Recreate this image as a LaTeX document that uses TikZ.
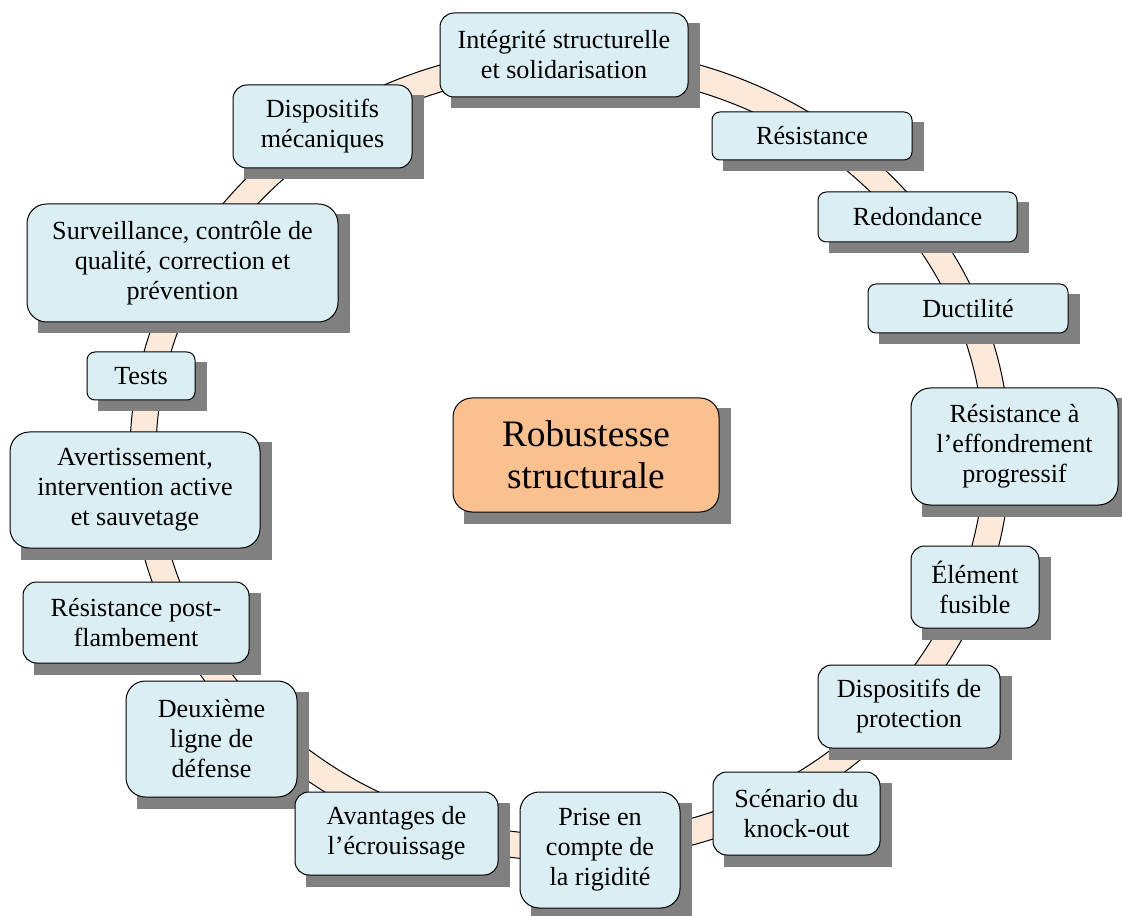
\documentclass[tikz,border=0pt]{standalone}
\usepackage{fontspec}
\setmainfont{Liberation Serif}
\usetikzlibrary{backgrounds}
\definecolor{boxblue}{HTML}{DAEEF3}
\definecolor{ringpeach}{HTML}{FDE9D9}
\definecolor{coreorange}{HTML}{FAC090}
\definecolor{shadegray}{HTML}{808080}
\tikzset{
  idea/.style={draw=black, line width=0.75pt, fill=boxblue, align=center, inner sep=0pt,
    font=\fontsize{19.6}{22.5}\selectfont},
  boxw/.style={minimum width=#1*0.75pt},
  boxh/.style={minimum height=#1*0.75pt, rounded corners=#1*0.125pt},
  shadowbox/.style={fill=shadegray}
}
\begin{document}
\begin{tikzpicture}[x=0.75pt,y=-0.75pt]
\useasboundingbox (0,0) rectangle (1122,916);
\node[idea, boxw=248, boxh=84] (integrite) at (564,55) {Intégrité structurelle\\et solidarisation};
\node[idea, boxw=179, boxh=83] (dispmeca) at (322.5,126.5) {Dispositifs\\mécaniques};
\node[idea, boxw=200, boxh=48] (resistance) at (812,136) {Résistance};
\node[idea, boxw=199, boxh=50] (redondance) at (917.5,217) {Redondance};
\node[idea, boxw=200, boxh=49] (ductilite) at (968,308.5) {Ductilité};
\node[idea, boxw=207, boxh=117] (effondrement) at (1014.5,446.5) {Résistance à\\l’effondrement\\progressif};
\node[idea, boxw=128, boxh=82] (fusible) at (975,587) {Élément\\fusible};
\node[idea, boxw=182, boxh=83] (protection) at (909,706.5) {Dispositifs de\\protection};
\node[idea, boxw=167, boxh=83] (knockout) at (796.5,813.5) {Scénario du\\knock-out};
\node[idea, boxw=160, boxh=116] (rigidite) at (600,850) {Prise en\\compte de\\la rigidité};
\node[idea, boxw=203, boxh=83] (ecrouissage) at (396.5,833.5) {Avantages de\\l’écrouissage};
\node[idea, boxw=171, boxh=116] (defense) at (211.5,739) {Deuxième\\ligne de\\défense};
\node[idea, boxw=226, boxh=81] (postflamb) at (136,622.5) {Résistance post-\\flambement};
\node[idea, boxw=250, boxh=116] (avertissement) at (135,490) {Avertissement,\\intervention active\\et sauvetage};
\node[idea, boxw=108, boxh=48] (tests) at (141,376) {Tests};
\node[idea, boxw=311, boxh=118] (surveillance) at (182.5,263) {Surveillance, contrôle de\\qualité, correction et\\prévention};
\node[idea, boxw=266, boxh=114, fill=coreorange, font=\fontsize{28}{31.2}\selectfont] (robustesse) at (586,455) {Robustesse\\structurale};
\begin{scope}[on background layer]
\fill[ringpeach, even odd rule] (570,454) ellipse [x radius=330pt, y radius=305.25pt]
  (570,454) ellipse [x radius=310.5pt, y radius=285.75pt];
\draw[line width=0.75pt] (570,454) ellipse [x radius=330pt, y radius=305.25pt]
  (570,454) ellipse [x radius=310.5pt, y radius=285.75pt];
\foreach \n in {integrite,dispmeca,resistance,redondance,ductilite,effondrement,fusible,protection,
  knockout,rigidite,ecrouissage,defense,postflamb,avertissement,tests,surveillance,robustesse}
  \fill[shadowbox] ([shift={(11,11)}]\n.south west) rectangle ([shift={(11,11)}]\n.north east);
\end{scope}
\end{tikzpicture}
\end{document}
